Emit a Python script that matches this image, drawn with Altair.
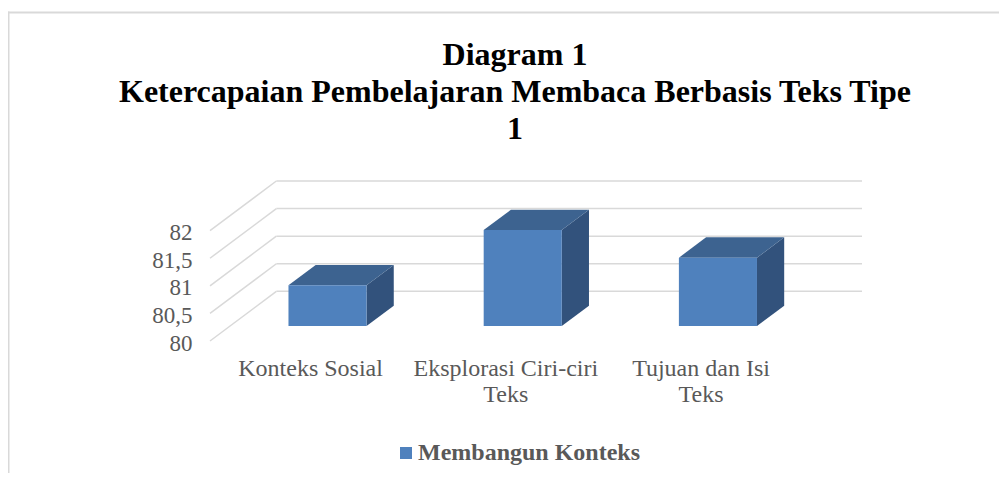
import altair as alt
import pandas as pd

# ---------------- data ----------------
categories = ["Konteks Sosial", "Eksplorasi Ciri-ciri\nTeks", "Tujuan dan Isi\nTeks"]
values = [80.74, 81.74, 81.24]
series_name = "Membangun Konteks"
y_ticks = [80, 80.5, 81, 81.5, 82]
title_lines = ["Diagram 1", "Ketercapaian Pembelajaran Membaca Berbasis Teks Tipe", "1"]

# ---------------- 3D geometry settings (in data units) ----------------
BASE = 80.0
DX = 0.34     # depth offset along x (category units)
DY = 0.9      # depth offset along y (value units)
F1, F2 = 0.30, 0.71   # front / back depth fraction of bars
HALF = 0.2    # half bar width (category units)
n = len(categories)

FRONT = "#4F81BD"
TOP = "#3D6390"
SIDE = "#32527C"
GRID = "#D9D9D9"
TXT = "#595959"
FONT = "Liberation Serif"

W, H = 652, 160
xs = alt.Scale(domain=[0, n + DX], nice=False, zero=False)
ys = alt.Scale(domain=[BASE, y_ticks[-1] + DY], nice=False, zero=False)
yaxis = alt.Axis(values=y_ticks, domain=False, ticks=False, grid=False,
                 title=None, labelFont=FONT, labelFontSize=23,
                 labelColor=TXT, labelPadding=18, labelOffset=2,
                 labelExpr="replace(toString(datum.value), '.', ',')")

# front faces
front = pd.DataFrame({
    "cat": categories,
    "series": [series_name] * n,
    "x": [i + 0.5 - HALF + F1 * DX for i in range(n)],
    "x2": [i + 0.5 + HALF + F1 * DX for i in range(n)],
    "y": [BASE + F1 * DY] * n,
    "y2": [v + F1 * DY for v in values],
})
# top faces and side faces (two depth rows per bar)
top_rows, side_rows = [], []
for i, (c, v) in enumerate(zip(categories, values)):
    for f in (F1, F2):
        top_rows.append({"cat": c, "y": v + f * DY,
                         "xl": i + 0.5 - HALF + f * DX,
                         "xr": i + 0.5 + HALF + f * DX})
        side_rows.append({"cat": c, "x": i + 0.5 + HALF + f * DX,
                          "yb": BASE + f * DY, "yt": v + f * DY})
top = pd.DataFrame(top_rows)
side = pd.DataFrame(side_rows)

back_grid = pd.DataFrame({"t": y_ticks,
                          "x": [DX] * len(y_ticks),
                          "x2": [n + DX] * len(y_ticks),
                          "y": [t + DY for t in y_ticks]})
wall_grid = pd.DataFrame({"t": y_ticks,
                          "x": [0.0] * len(y_ticks),
                          "x2": [DX] * len(y_ticks),
                          "y": y_ticks,
                          "y2": [t + DY for t in y_ticks]})
labels = pd.DataFrame({"cat": categories, "c": [i + 0.5 for i in range(n)]})

# ---------------- layers ----------------
back_lines = alt.Chart(back_grid).mark_rule(color=GRID, strokeWidth=1.5).encode(
    x=alt.X("x:Q", scale=xs, axis=None),
    x2="x2:Q",
    y=alt.Y("y:Q", scale=ys, axis=yaxis),
)

wall = alt.Chart(wall_grid).mark_rule(color=GRID, strokeWidth=1.5).encode(
    x=alt.X("x:Q", scale=xs, axis=None),
    x2="x2:Q",
    y=alt.Y("y:Q", scale=ys, axis=yaxis),
    y2="y2:Q",
)

side_faces = alt.Chart(side).mark_area(orient="vertical", color=SIDE).encode(
    x=alt.X("x:Q", scale=xs, axis=None),
    y=alt.Y("yb:Q", scale=ys, axis=yaxis, stack=None),
    y2="yt:Q",
    detail="cat:N",
)

top_faces = alt.Chart(top).mark_area(orient="horizontal", color=TOP).encode(
    y=alt.Y("y:Q", scale=ys, axis=yaxis),
    x=alt.X("xl:Q", scale=xs, axis=None, stack=None),
    x2="xr:Q",
    detail="cat:N",
)

front_faces = alt.Chart(front).mark_rect().encode(
    x=alt.X("x:Q", scale=xs, axis=None),
    x2="x2:Q",
    y=alt.Y("y:Q", scale=ys, axis=yaxis),
    y2="y2:Q",
    color=alt.Color("series:N", scale=alt.Scale(range=[FRONT]),
                    legend=alt.Legend(orient="none", legendX=184, legendY=260,
                                      title=None, symbolType="square",
                                      symbolSize=144, symbolStrokeWidth=0,
                                      labelFont=FONT, labelFontSize=24,
                                      labelFontWeight="bold", labelColor=TXT,
                                      labelOffset=0, labelLimit=0, padding=0)),
)

cat_labels = alt.Chart(labels).mark_text(
    lineBreak="\n", font=FONT, fontSize=24, color=TXT, baseline="top",
    lineHeight=26, dx=3,
).encode(
    x=alt.X("c:Q", scale=xs, axis=None),
    y=alt.value(H + 16),
    text="cat:N",
)

frame = pd.DataFrame({"k": [0]})
title_text = alt.Chart(frame).mark_text(
    text=title_lines, font=FONT, fontSize=32, fontWeight="bold", color="black",
    lineHeight=37, align="center", baseline="alphabetic",
).encode(x=alt.value(305), y=alt.value(-116))

border_top = alt.Chart(frame).mark_rule(color=GRID, strokeWidth=2).encode(
    x=alt.value(-202), x2=alt.value(789), y=alt.value(-168.5), y2=alt.value(-168.5)
)
border_left = alt.Chart(frame).mark_rule(color=GRID, strokeWidth=1.5).encode(
    x=alt.value(-201.25), x2=alt.value(-201.25), y=alt.value(-169.5), y2=alt.value(292)
)

chart = alt.layer(
    border_top, border_left, back_lines, wall,
    side_faces, top_faces, front_faces, cat_labels, title_text,
).properties(
    width=W, height=H,
    autosize=alt.AutoSizeParams(type="none"),
    padding={"left": 202, "top": 173, "right": 137, "bottom": 132},
    background="white",
).configure_view(stroke=None)

chart.save("out.html", embed_options={"renderer": "svg", "actions": False})
